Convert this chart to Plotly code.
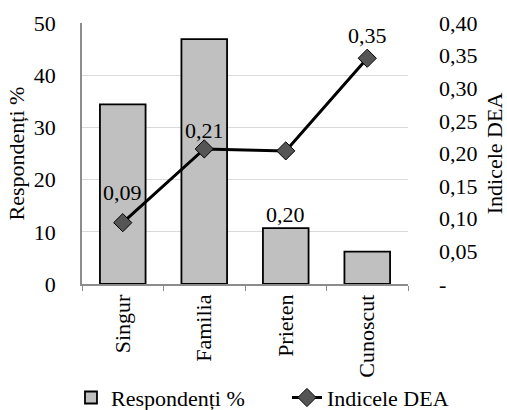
import plotly.graph_objects as go

categories = ["Singur", "Familia", "Prieten", "Cunoscut"]
respondenti = [34.4, 46.9, 10.7, 6.2]
dea = [0.094, 0.207, 0.204, 0.346]
dea_labels = ["0,09", "0,21", "0,20", "0,35"]
left_ticks = [0, 10, 20, 30, 40, 50]
right_tickvals = [0, 0.05, 0.10, 0.15, 0.20, 0.25, 0.30, 0.35, 0.40]
right_ticktext = ["-", "0,05", "0,10", "0,15", "0,20", "0,25", "0,30", "0,35", "0,40"]

FONT = "Liberation Serif"
FS = 22

fig = go.Figure()
fig.add_trace(go.Bar(
    x=categories, y=respondenti, name="Respondenți %",
    marker=dict(color="#c0c0c0", line=dict(color="black", width=1.8)),
    width=0.56, legend="legend",
))
fig.add_trace(go.Scatter(
    x=categories, y=dea, name="Indicele DEA", yaxis="y2",
    mode="lines+markers",
    line=dict(color="black", width=3),
    marker=dict(symbol="diamond", size=14, color="#555555", line=dict(color="black", width=1)),
    legend="legend2",
))
# data labels for the line (Excel style placement)
shifts = [30, 18, -64, 23]
for c, v, t, s in zip(categories, dea, dea_labels, shifts):
    fig.add_annotation(x=c, y=v, yref="y2", text=t, showarrow=False,
                       yshift=s, font=dict(family=FONT, size=FS, color="black"))

legend_common = dict(orientation="h", xref="container", yref="container",
                     y=0.03, xanchor="left", yanchor="middle",
                     font=dict(family=FONT, size=FS, color="black"), itemwidth=30,
                     bgcolor="rgba(0,0,0,0)")

fig.update_layout(
    width=507, height=410,
    margin=dict(l=82, r=99, t=23, b=126, autoexpand=False),
    paper_bgcolor="white", plot_bgcolor="white",
    font=dict(family=FONT, size=FS, color="black"),
    separators=", ",
    showlegend=True,
    legend=dict(x=0.14, **legend_common),
    legend2=dict(x=0.566, **legend_common),
    xaxis=dict(
        automargin=False,
        showline=True, linecolor="#8c8c8c", linewidth=1.5,
        ticks="outside", tickson="boundaries", ticklen=5, tickcolor="#8c8c8c",
        tickangle=-90, tickfont=dict(family=FONT, size=FS, color="black"),
        showgrid=False,
    ),
    yaxis=dict(
        automargin=False,
        range=[0, 50], tickvals=left_ticks,
        showline=True, linecolor="#8c8c8c", linewidth=1.5,
        showgrid=True, gridcolor="#d9d9d9", gridwidth=1,
        ticks="", zeroline=False, ticklabelstandoff=20,
        title=dict(text="Respondenți %", font=dict(family=FONT, size=FS, color="black"), standoff=3),
        tickfont=dict(family=FONT, size=FS, color="black"),
    ),
    yaxis2=dict(
        automargin=False,
        range=[0, 0.4], overlaying="y", side="right",
        tickvals=right_tickvals, ticktext=right_ticktext,
        showline=False, showgrid=False, zeroline=False, ticks="", ticklabelstandoff=30,
        title=dict(text="Indicele DEA", font=dict(family=FONT, size=FS, color="black"), standoff=12),
        tickfont=dict(family=FONT, size=FS, color="black"),
    ),
)

fig.write_html("out.html")
